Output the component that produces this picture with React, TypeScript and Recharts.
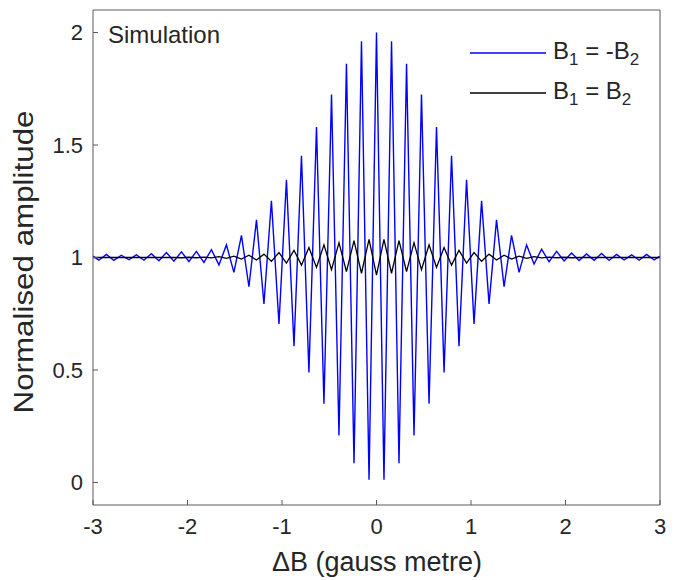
import { Label, Legend, Line, LineChart, XAxis, YAxis } from 'recharts';

// field offset ΔB, sampled at every crest and trough of the blue trace
const deltaB = [
  -3, -2.938, -2.858, -2.779, -2.7, -2.62, -2.541, -2.461, -2.382, -2.303, -2.223, -2.144, -2.064,
  -1.985, -1.906, -1.826, -1.747, -1.667, -1.588, -1.509, -1.429, -1.35, -1.27, -1.191, -1.112,
  -1.032, -0.953, -0.873, -0.794, -0.715, -0.635, -0.556, -0.476, -0.397, -0.318, -0.238, -0.159,
  -0.079, 0, 0.079, 0.159, 0.238, 0.318, 0.397, 0.476, 0.556, 0.635, 0.715, 0.794, 0.873, 0.953,
  1.032, 1.112, 1.191, 1.27, 1.35, 1.429, 1.509, 1.588, 1.667, 1.747, 1.826, 1.906, 1.985, 2.064,
  2.144, 2.223, 2.303, 2.382, 2.461, 2.541, 2.62, 2.7, 2.779, 2.858, 2.938, 3,
];

// B1 = -B2
const opposite = [
  1.006, 0.988, 1.014, 0.987, 1.01, 0.99, 1.012, 0.988, 1.017, 0.986, 1.022, 0.984, 1.025,
  0.982, 1.027, 0.978, 1.035, 0.967, 1.056, 0.934, 1.098, 0.87, 1.167, 0.794, 1.252,
  0.705, 1.345, 0.606, 1.452, 0.489, 1.58, 0.35, 1.724, 0.209, 1.861, 0.086, 1.961,
  0.012, 2.0, 0.012, 1.961, 0.086, 1.861, 0.209, 1.724, 0.35, 1.58, 0.489, 1.452, 0.606, 1.345,
  0.705, 1.252, 0.794, 1.167, 0.87, 1.098, 0.934, 1.056, 0.971, 1.037, 0.981, 1.027, 0.985, 1.02,
  0.987, 1.016, 0.988, 1.018, 0.987, 1.014, 0.989, 1.012, 0.988, 1.014, 0.989, 1.006,
];

// B1 = B2
const same = [
  1.0, 1.0, 1.0, 1.0, 1.0, 1.0, 1.0, 1.0, 1.0, 1.0, 1.0, 1.0, 0.999,
  1.001, 0.999, 1.002, 0.998, 1.004, 0.996, 1.006, 0.993, 1.01, 0.989, 1.015, 0.983,
  1.022, 0.975, 1.032, 0.966, 1.044, 0.956, 1.056, 0.946, 1.066, 0.937, 1.075, 0.93,
  1.081, 0.922, 1.081, 0.93, 1.075, 0.937, 1.066, 0.946, 1.056, 0.956, 1.044, 0.966, 1.032, 0.975,
  1.022, 0.983, 1.015, 0.989, 1.01, 0.993, 1.006, 0.996, 1.004, 0.998, 1.002, 0.999, 1.001, 0.999,
  1.0, 1.0, 1.0, 1.0, 1.0, 1.0, 1.0, 1.0, 1.0, 1.0, 1.0, 1.0,
];

const xTicks = [-3, -2, -1, 0, 1, 2, 3];
const yTicks = [0, 0.5, 1, 1.5, 2];

const rows = deltaB.map((x, i) => ({ x, opposite: opposite[i], same: same[i] }));

const font = '"Liberation Sans", Arial, sans-serif';
const ink = '#262626';
const frame = '#5a5a5a';
const tickStyle = { fontSize: 22, fill: ink, fontFamily: font };

function LegendBox() {
  const entries = [
    { color: '#0000ff', minus: true },
    { color: '#000000', minus: false },
  ];
  return (
    <div style={{ fontFamily: font, fontSize: 24, color: ink }}>
      {entries.map((e, i) => (
        <div key={i} style={{ display: 'flex', alignItems: 'center', height: 40 }}>
          <svg width={76} height={4} style={{ display: 'block' }}>
            <line x1={0} x2={76} y1={2} y2={2} stroke={e.color} strokeWidth={1.4} />
          </svg>
          <span style={{ marginLeft: 7, whiteSpace: 'nowrap' }}>
            B<sub style={{ fontSize: 17 }}>1</sub> = {e.minus ? '-' : ''}B
            <sub style={{ fontSize: 17 }}>2</sub>
          </span>
        </div>
      ))}
    </div>
  );
}

export default function App() {
  return (
    <div style={{ position: 'relative', width: 680, height: 580 }}>
      <style>{'body { margin: 0; }'}</style>
      <LineChart width={680} height={580} data={rows} margin={{ top: 9, right: 19, bottom: 0, left: 0 }}>
        <XAxis
          dataKey="x"
          type="number"
          domain={[-3, 3]}
          ticks={xTicks}
          allowDataOverflow
          height={75}
          stroke={frame}
          tickSize={-5}
          tickMargin={18}
          tick={tickStyle}
        >
          <Label
            content={() => (
              <text x={377} y={571} textAnchor="middle" fontSize={27} fill={ink} fontFamily={font}>
                ΔB (gauss metre)
              </text>
            )}
          />
        </XAxis>
        <XAxis
          xAxisId="top"
          orientation="top"
          type="number"
          domain={[-3, 3]}
          ticks={xTicks}
          height={1}
          stroke={frame}
          tickSize={-5}
          tick={false}
        />
        <YAxis
          type="number"
          domain={[-0.1, 2.1]}
          ticks={yTicks}
          allowDataOverflow
          width={93}
          stroke={frame}
          tickSize={-5}
          tickMargin={15}
          tick={tickStyle}
        >
          <Label
            content={() => (
              <text
                x={33}
                y={262}
                transform="rotate(-90 33 262)"
                textAnchor="middle"
                fontSize={27}
                textLength={303}
                lengthAdjust="spacingAndGlyphs"
                fill={ink}
                fontFamily={font}
              >
                Normalised amplitude
              </text>
            )}
          />
        </YAxis>
        <YAxis
          yAxisId="right"
          orientation="right"
          type="number"
          domain={[-0.1, 2.1]}
          ticks={yTicks}
          width={1}
          stroke={frame}
          tickSize={-5}
          tick={false}
        />
        <Legend
          layout="vertical"
          align="center"
          verticalAlign="middle"
          wrapperStyle={{ left: 470, top: 33, width: 'auto', height: 'auto' }}
          content={() => <LegendBox />}
        />
        <Line
          type="linear"
          dataKey="opposite"
          name="B1 = -B2"
          stroke="#0000ff"
          strokeWidth={1.4}
          dot={false}
          isAnimationActive={false}
        />
        <Line
          type="linear"
          dataKey="same"
          name="B1 = B2"
          stroke="#000000"
          strokeWidth={1.3}
          dot={false}
          isAnimationActive={false}
        />
      </LineChart>
      <div
        style={{
          position: 'absolute',
          left: 108,
          top: 21,
          fontFamily: font,
          fontSize: 24,
          color: ink,
          lineHeight: 1.15,
        }}
      >
        Simulation
      </div>
    </div>
  );
}
